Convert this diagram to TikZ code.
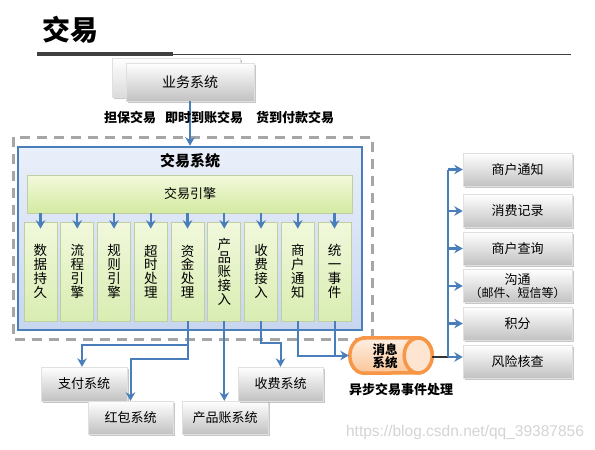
\documentclass[tikz,border=0pt]{standalone}
\usepackage{fontspec}
\setmainfont{Noto Sans CJK SC}
\newfontfamily\wmfont{Liberation Sans}
\usetikzlibrary{arrows.meta,shadows,calc}
\definecolor{bl}{HTML}{4A7EBB}
\definecolor{dashgray}{HTML}{A6A6A6}
\definecolor{barcol}{HTML}{404040}
\definecolor{orng}{HTML}{F79646}
\definecolor{gtop}{HTML}{F3F9DC}
\definecolor{gbot}{HTML}{D4EAA2}
\definecolor{vtop}{HTML}{F1F8DC}
\definecolor{vbot}{HTML}{D9EDB2}
\definecolor{gbord}{HTML}{BFCF9F}
\definecolor{btop}{HTML}{EAF0FA}
\definecolor{bbot}{HTML}{C7D6EF}
\tikzset{
  graybox/.style={inner sep=0pt, top color=white, bottom color=black!24, draw=black!12, line width=0.4pt,
    drop shadow={shadow xshift=1.5pt, shadow yshift=-1.5pt, fill=black, opacity=0.22},
    font=\fontsize{13}{14}\selectfont, align=center},
  greenbox/.style={inner sep=0pt, top color=vtop, bottom color=vbot, draw=gbord, line width=0.6pt,
    align=center},
  arr/.style={draw=bl, line width=2.2pt, -{Stealth[length=8.5pt,width=9.5pt]}},
  bline/.style={draw=bl, line width=2.2pt},
  lbl/.style={font=\bfseries\fontsize{13}{14}\selectfont, inner sep=0pt},
  vtext/.style={font=\fontsize{13.5}{13.8}\selectfont},
}
\begin{document}
\begin{tikzpicture}[x=1pt,y=-1pt]
\useasboundingbox (0,0) rectangle (595,450);
\fill[white] (0,0) rectangle (595,450);
% title
\node[font=\bfseries\fontsize{28}{28}\selectfont, anchor=west, inner sep=0pt] (title) at (42,30) {交易};
\draw[line width=4pt, barcol] (37,54) -- (173,54);
\draw[line width=1pt, barcol] (173,54) -- (571,54);
% business system
\node[graybox, minimum width=128pt, minimum height=39pt, top color=white, bottom color=black!14] (ywb) at (176,77.5) {};
\node[graybox, minimum width=128pt, minimum height=38pt, font=\fontsize{14}{15}\selectfont] (yw) at (190,82) {业务系统};
% dashed outer box
\draw[dashgray, line width=3pt, dash pattern=on 10pt off 7pt] (13,137) rectangle (372,339);
% trading system
\node[draw=bl, line width=2.6pt, top color=btop, bottom color=bbot, minimum width=344pt, minimum height=183pt, inner sep=0pt] (sys) at (190,238.5) {};
\node[font=\bfseries\fontsize{15}{16}\selectfont, inner sep=0pt] (systxt) at (190,161) {交易系统};
\node[greenbox, top color=gtop, bottom color=gbot, minimum width=325pt, minimum height=38pt, font=\fontsize{13}{14}\selectfont] (eng) at (190,194) {交易引擎};
\foreach \i/\t in {1/{数\\据\\持\\久},2/{流\\程\\引\\擎},3/{规\\则\\引\\擎},4/{超\\时\\处\\理},5/{资\\金\\处\\理},6/{产\\品\\账\\接\\入},7/{收\\费\\接\\入},8/{商\\户\\通\\知},9/{统\\一\\事\\件}}{
  \node[greenbox, minimum width=33pt, minimum height=99pt, vtext] (b\i) at ({40.5+36.75*(\i-1)},271.5) {\t};
}
\foreach \i in {1,...,9}{
  \draw[arr] (b\i.north |- eng.south) -- ([yshift=-7pt]b\i.north);
}
% arrow from business system
\draw[arr] (yw.south) -- (sys.north);
\node[lbl] (l1) at (130,118) {担保交易};
\node[lbl] (l2) at (204,118) {即时到账交易};
\node[lbl] (l3) at (295,118) {货到付款交易};
% bottom systems
\node[graybox, minimum width=86pt, minimum height=34pt] (zf) at (84,384) {支付系统};
\node[graybox, minimum width=85pt, minimum height=33pt] (hb) at (130.5,417.5) {红包系统};
\node[graybox, minimum width=86pt, minimum height=33pt] (cp) at (225,417.5) {产品账系统};
\node[graybox, minimum width=85pt, minimum height=34pt] (sf) at (280.5,384) {收费系统};
% message system cylinder
\node[minimum width=82pt, minimum height=35pt, inner sep=0pt] (cyl) at (391,355.5) {};
\draw[orng, line width=3.5pt, top color=orng!15, bottom color=orng!55]
  ($(cyl.north west)+(14,0)$) -- ($(cyl.north east)+(-14,0)$) arc (90:-90:14pt and 17.5pt)
  -- ($(cyl.south west)+(14,0)$) arc (270:90:14pt and 17.5pt) -- cycle;
\draw[orng, line width=3.5pt, fill=orng!25] ($(cyl.east)+(-14,0)$) ellipse (14pt and 17.5pt);
\node[font=\bfseries\fontsize{12.5}{13.5}\selectfont, align=center, inner sep=0pt] (cyltxt) at (385,356) {消息\\系统};
\node[lbl] (async) at (401,390) {异步交易事件处理};
% connectors out of trading system
\draw[arr, line width=2pt] (b5.south) -- ++(0,38) -| (hb.north);
\draw[arr, line width=2pt] ($(b5.south)+(0,24)$) -| ($(zf.north)+(-2,0)$);
\draw[arr, line width=2pt] (b6.south) -- (b6.south |- cp.north);
\draw[arr, line width=2pt] (b7.south) -- ++(0,22) -| (sf.north);
\draw[arr, line width=2pt] (b8.south) |- ($(cyl.west)+(-1,0)$);
\draw[bline, line width=2pt] (b9.south) -- (b9.south |- cyl.west);
% right side
\foreach \i/\y/\t in {1/169.5/{商户通知},2/211/{消费记录},3/248.5/{商户查询},4/286/{沟通\\[-1pt]{\fontsize{12}{13}\selectfont（邮件、短信等）}},5/323.5/{积分},6/361.5/{风险核查}}{
  \node[graybox, minimum width=109pt, minimum height=33pt] (r\i) at (517.5,\y) {\t};
}
\coordinate (bus) at (448,357);
\draw[black!80, line width=2.2pt] (cyl.east |- bus) -- (bus);
\draw[bline] (bus) -- (bus |- r1.west);
\foreach \i in {1,...,5}{
  \draw[arr] (bus |- r\i.west) -- (r\i.west);
}
\draw[arr] (bus) -- (bus -| r6.west);
% watermark
\node[font=\wmfont\fontsize{15.5}{16}\selectfont, text=black!17, inner sep=0pt] (wm) at (465,432) {https://blog.csdn.net/qq\_39387856};
\end{tikzpicture}
\end{document}
